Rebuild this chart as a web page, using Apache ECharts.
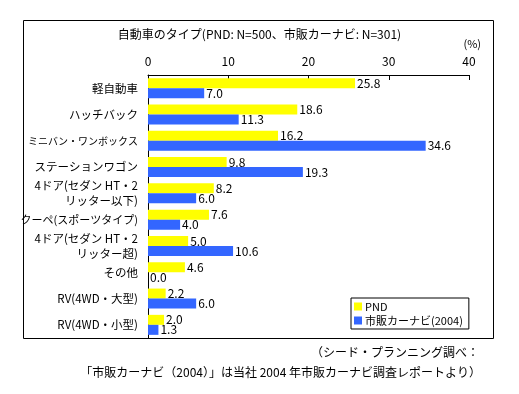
<!DOCTYPE html>
<html><head><meta charset="utf-8">
<script src="https://cdn.jsdelivr.net/npm/echarts@6/dist/echarts.min.js"></script>
<style>html,body{margin:0;padding:0;background:#fff}#c{width:519px;height:394px}</style>
</head><body><div id="c"></div>
<script>
const categories = ['軽自動車','ハッチバック','ミニバン・ワンボックス','ステーションワゴン','4ドア(セダン HT・2\nリッター以下)','クーペ(スポーツタイプ)','4ドア(セダン HT・2\nリッター超)','その他','RV(4WD・大型)','RV(4WD・小型)'];
const pnd = [25.8, 18.6, 16.2, 9.8, 8.2, 7.6, 5.0, 4.6, 2.2, 2.0];
const navi = [7.0, 11.3, 34.6, 19.3, 6.0, 4.0, 10.6, 0.0, 6.0, 1.3];
const seriesNames = ['PND', '市販カーナビ(2004)'];
const title = '自動車のタイプ(PND: N=500、市販カーナビ: N=301)';
const footer1 = '（シード・プランニング調べ：';
const footer2 = '「市販カーナビ（2004）」は当社 2004 年市販カーナビ調査レポートより）';
const FONT = '"Noto Sans CJK JP", sans-serif';
const chart = echarts.init(document.getElementById('c'));
const lbl = {show:true, position:'right', distance:2, color:'#000', fontSize:12, fontFamily:FONT, formatter:p=>p.value.toFixed(1)};
chart.setOption({
  animation:false,
  textStyle:{fontFamily:FONT},
  graphic:[
    {type:'rect', shape:{x:23.5,y:20.5,width:470,height:318}, style:{fill:'none',stroke:'#000',lineWidth:1}},
    {type:'text', left:'center', top:28, style:{text:title, fontSize:12, fontFamily:FONT, fill:'#000'}},
    {type:'text', right:38, top:38, style:{text:'(%)', fontSize:11, fontFamily:FONT, fill:'#000'}},
    {type:'text', right:40, top:346, style:{text:footer1, fontSize:12, fontFamily:FONT, fill:'#000'}},
    {type:'text', right:38, top:366, style:{text:footer2, fontSize:12, fontFamily:FONT, fill:'#000'}}
  ],
  legend:{
    orient:'vertical', left:351, top:298, itemWidth:8, itemHeight:8, itemGap:3, icon:'rect',
    borderColor:'#000', borderWidth:1, borderRadius:0, padding:[3,6,3,3],
    textStyle:{fontSize:11, fontFamily:FONT, color:'#000', padding:[0,0,0,-2]},
    data:seriesNames
  },
  grid:{left:148, right:50, top:75, bottom:56, containLabel:false},
  xAxis:{type:'value', position:'top', min:0, max:40, interval:10,
    axisLine:{show:true, lineStyle:{color:'#000'}},
    axisTick:{show:true, inside:true, length:5, lineStyle:{color:'#000'}},
    axisLabel:{color:'#000', fontSize:12, margin:8, fontFamily:FONT},
    splitLine:{show:false}},
  yAxis:{type:'category', data:categories, inverse:true,
    axisLine:{show:true, lineStyle:{color:'#000'}},
    axisTick:{show:false},
    axisLabel:{color:'#000', fontSize:11.5, margin:10, fontFamily:FONT, lineHeight:15,
      formatter:v => v.length > 10 && v.indexOf('(') < 0 ? '{s|' + v + '}' : (v.length > 10 && v.indexOf('\n') < 0 ? '{m|' + v + '}' : v),
      rich:{s:{fontSize:10, fontFamily:FONT, color:'#000'}, m:{fontSize:11, fontFamily:FONT, color:'#000'}}}},
  series:[
    {name:seriesNames[0], type:'bar', data:pnd, barWidth:10, barGap:'0%', itemStyle:{color:'#ffff00'}, label:lbl},
    {name:seriesNames[1], type:'bar', data:navi, barWidth:10, barGap:'0%', itemStyle:{color:'#3366ff'}, label:lbl}
  ]
});
</script></body></html>
